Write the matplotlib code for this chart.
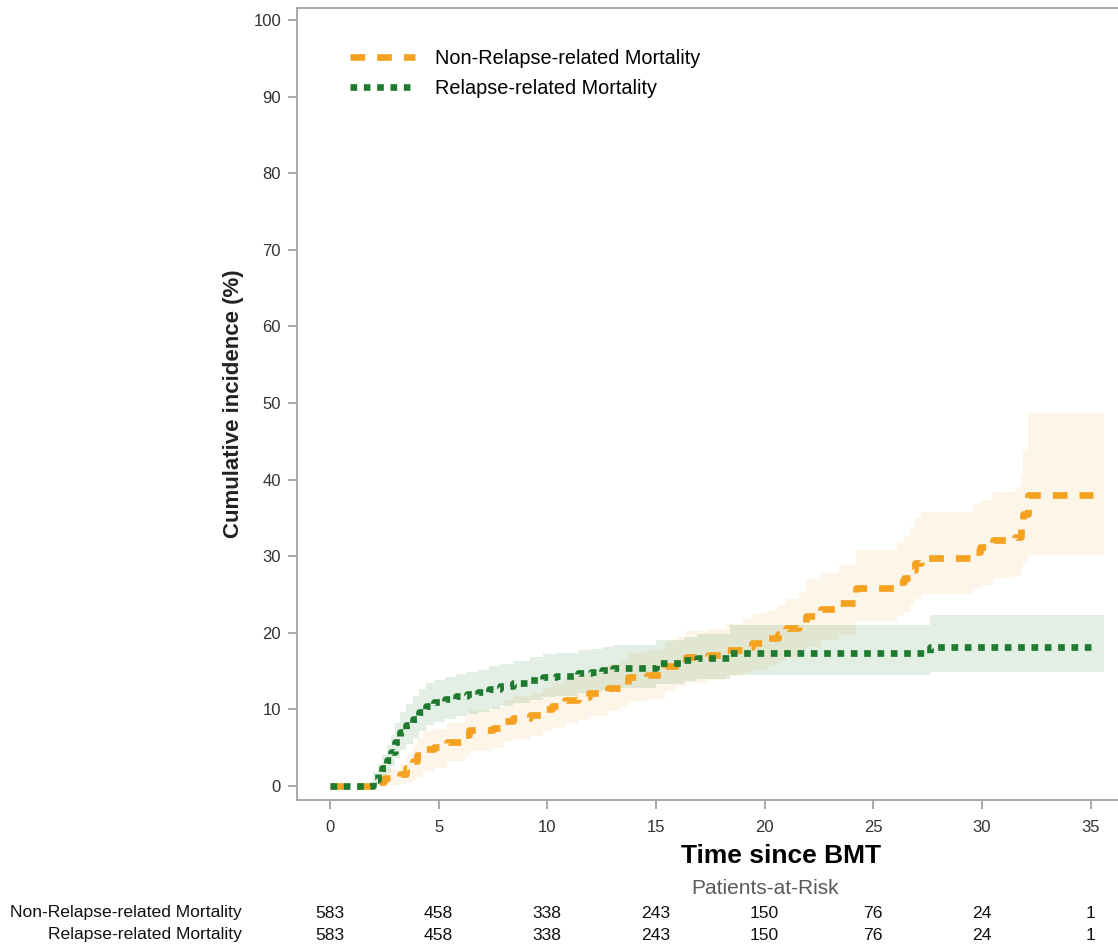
import numpy as np
import matplotlib.pyplot as plt
from matplotlib.transforms import blended_transform_factory

plt.rcParams['font.family'] = ['Liberation Sans', 'DejaVu Sans']

# Kumulative Inzidenz (%) (Treppenfunktionen)
nrm_time = [0, 2.2, 2.5, 3.2, 3.5, 3.8, 4.0, 4.3, 4.8, 5.4, 6.2, 6.4, 7.5, 8.0, 8.4,
            9.2, 9.8, 10.2, 10.8, 11.4, 11.9, 12.8, 13.4, 13.7, 14.6, 15.4, 15.9,
            16.4, 17.4, 18.2, 19.0, 19.4, 20.1, 20.6, 21.0, 21.6, 21.9, 22.6, 23.4,
            24.2, 26.1, 26.4, 26.7, 26.9, 27.2, 29.6, 29.9, 30.5, 31.5, 31.8, 31.9,
            32.1, 35.1]
nrm_ci = [0, 0.5, 1.0, 1.5, 2.3, 3.2, 4.0, 4.8, 5.1, 5.8, 6.6, 7.3, 7.6, 8.5, 8.9,
          9.3, 10.0, 10.5, 11.2, 11.6, 12.1, 12.8, 13.3, 14.2, 14.5, 15.6, 16.2,
          16.8, 17.1, 17.7, 18.2, 18.7, 19.3, 19.9, 20.6, 21.4, 22.2, 23.1, 23.9,
          25.8, 26.6, 27.2, 28.2, 29.1, 29.8, 30.6, 31.2, 32.1, 32.5, 34.0, 35.5,
          38.0, 38.0]
nrm_lower = [0, 0.0, 0.1, 0.3, 0.5, 0.8, 1.2, 2.0, 2.4, 3.2, 4.0, 4.6, 4.9, 5.7, 6.1,
             6.5, 7.2, 7.6, 8.2, 8.6, 9.1, 9.8, 10.3, 11.0, 11.4, 12.4, 13.0,
             13.5, 13.8, 14.3, 14.8, 15.2, 15.7, 16.3, 16.9, 17.6, 18.2, 19.0, 19.7,
             21.5, 22.2, 22.7, 23.6, 24.4, 25.1, 25.8, 26.3, 27.1, 27.4, 28.6, 29.3,
             30.1, 30.1]
nrm_upper = [0, 1.4, 2.2, 2.9, 4.0, 5.2, 6.2, 7.2, 7.5, 8.3, 9.2, 9.9, 10.3, 11.2, 11.7,
             12.1, 12.8, 13.4, 14.2, 14.6, 15.1, 15.9, 16.4, 17.4, 17.7, 18.9, 19.5,
             20.2, 20.5, 21.2, 21.8, 22.4, 23.0, 23.6, 24.4, 25.3, 27.0, 27.8, 28.8,
             30.8, 31.8, 32.6, 33.8, 35.0, 35.8, 36.7, 37.3, 38.4, 39.0, 40.6, 43.9,
             48.7, 48.7]

rrm_time = [0, 2.0, 2.2, 2.4, 2.6, 2.8, 3.0, 3.2, 3.5, 3.8, 4.1, 4.4, 4.8, 5.3, 5.8,
            6.3, 6.8, 7.3, 7.8, 8.4, 9.2, 9.8, 10.4, 11.4, 12.0, 12.5, 13.0, 15.0,
            16.3, 16.9, 18.4, 27.6, 35.1]
rrm_ci = [0, 0.8, 1.6, 2.4, 3.4, 4.5, 5.8, 7.1, 8.0, 8.8, 9.7, 10.5, 11.0, 11.3, 11.7,
          12.0, 12.3, 12.7, 13.0, 13.4, 13.8, 14.2, 14.4, 14.7, 14.9, 15.1, 15.4, 16.0,
          16.4, 16.7, 17.3, 18.2, 18.2]
rrm_lower = [0, 0.1, 0.5, 1.0, 1.7, 2.6, 3.6, 4.7, 5.5, 6.3, 7.2, 7.9, 8.4, 8.7, 9.1,
             9.4, 9.7, 10.1, 10.4, 10.8, 11.2, 11.6, 11.8, 12.1, 12.3, 12.5, 12.8, 13.3,
             13.7, 14.0, 14.5, 14.9, 14.9]
rrm_upper = [0, 1.8, 2.9, 4.0, 5.3, 6.6, 8.2, 9.6, 10.7, 11.7, 12.7, 13.4, 13.9, 14.2, 14.6,
             14.9, 15.2, 15.6, 15.9, 16.3, 16.8, 17.2, 17.4, 17.7, 17.9, 18.1, 18.4, 19.1,
             19.5, 19.8, 21.0, 22.3, 22.3]

band_end = 35.6

risk_times = [0, 5, 10, 15, 20, 25, 30, 35]
risk_nrm = [583, 458, 338, 243, 150, 76, 24, 1]
risk_rrm = [583, 458, 338, 243, 150, 76, 24, 1]

labels = ["Non-Relapse-related Mortality", "Relapse-related Mortality"]
orange = "#F4A21F"
green = "#1E7A2E"
axis_grey = "#A6AAAE"

fig = plt.figure(figsize=(11.18, 9.44), dpi=100)
ax = fig.add_axes([297 / 1118, 1 - 800 / 944, 1 - 297 / 1118, 792 / 944])

# Konfidenzbänder
ax.fill_between(nrm_time[:-1] + [band_end], nrm_lower, nrm_upper, step="post",
                color=orange, alpha=0.1, lw=0)
ax.fill_between(rrm_time[:-1] + [band_end], rrm_lower, rrm_upper, step="post",
                color=green, alpha=0.12, lw=0)

ax.plot(nrm_time, nrm_ci, drawstyle="steps-post", color=orange, lw=4.8,
        dashes=(2.2, 1.8), dash_capstyle="butt", label=labels[0])
ax.plot(rrm_time, rrm_ci, drawstyle="steps-post", color=green, lw=4.8,
        dashes=(1.0, 1.0), dash_capstyle="butt", label=labels[1])

ax.set_xlim(-1.52, 36.26)
ax.set_ylim(-1.83, 101.57)
ax.set_xticks(risk_times)
ax.set_yticks(np.arange(0, 101, 10))

for side in ["left", "bottom", "top"]:
    ax.spines[side].set_color(axis_grey)
    ax.spines[side].set_linewidth(1.4)
ax.spines["right"].set_visible(False)
ax.tick_params(length=6.5, width=1.4, color=axis_grey, labelsize=12,
               labelcolor="#333333", pad=5)
ax.tick_params(axis="x", pad=8)

ax.set_ylabel("Cumulative incidence (%)", fontsize=16, fontweight="bold",
              color="#222222")
ax.yaxis.set_label_coords(-0.064, 0.5)

ax.text(0.59, -0.0705, "Time since BMT", transform=ax.transAxes, fontsize=19,
        fontweight="bold", ha="center", va="center", color="black")

ax.legend(loc="upper left", bbox_to_anchor=(0.0646, 0.948), frameon=False,
          fontsize=14.3, handlelength=3.27, handletextpad=1.0, labelspacing=0.56,
          borderpad=0, borderaxespad=0)

# Patients-at-Risk Tabelle
tr = blended_transform_factory(ax.transData, fig.transFigure)
ax.text(20, 1 - 888 / 944, "Patients-at-Risk", transform=tr, fontsize=15,
        color="#5a5a5a", ha="center", va="center")
for row, (name, counts) in enumerate(zip(labels, [risk_nrm, risk_rrm])):
    y = 1 - (913 + 22 * row) / 944
    fig.text(242 / 1118, y, name, fontsize=12.6, ha="right", va="center",
             color="#111111")
    for t, n in zip(risk_times, counts):
        ax.text(t, y, str(n), transform=tr, fontsize=12.6, ha="center",
                va="center", color="#111111")

fig.savefig("out.png", dpi=100)
